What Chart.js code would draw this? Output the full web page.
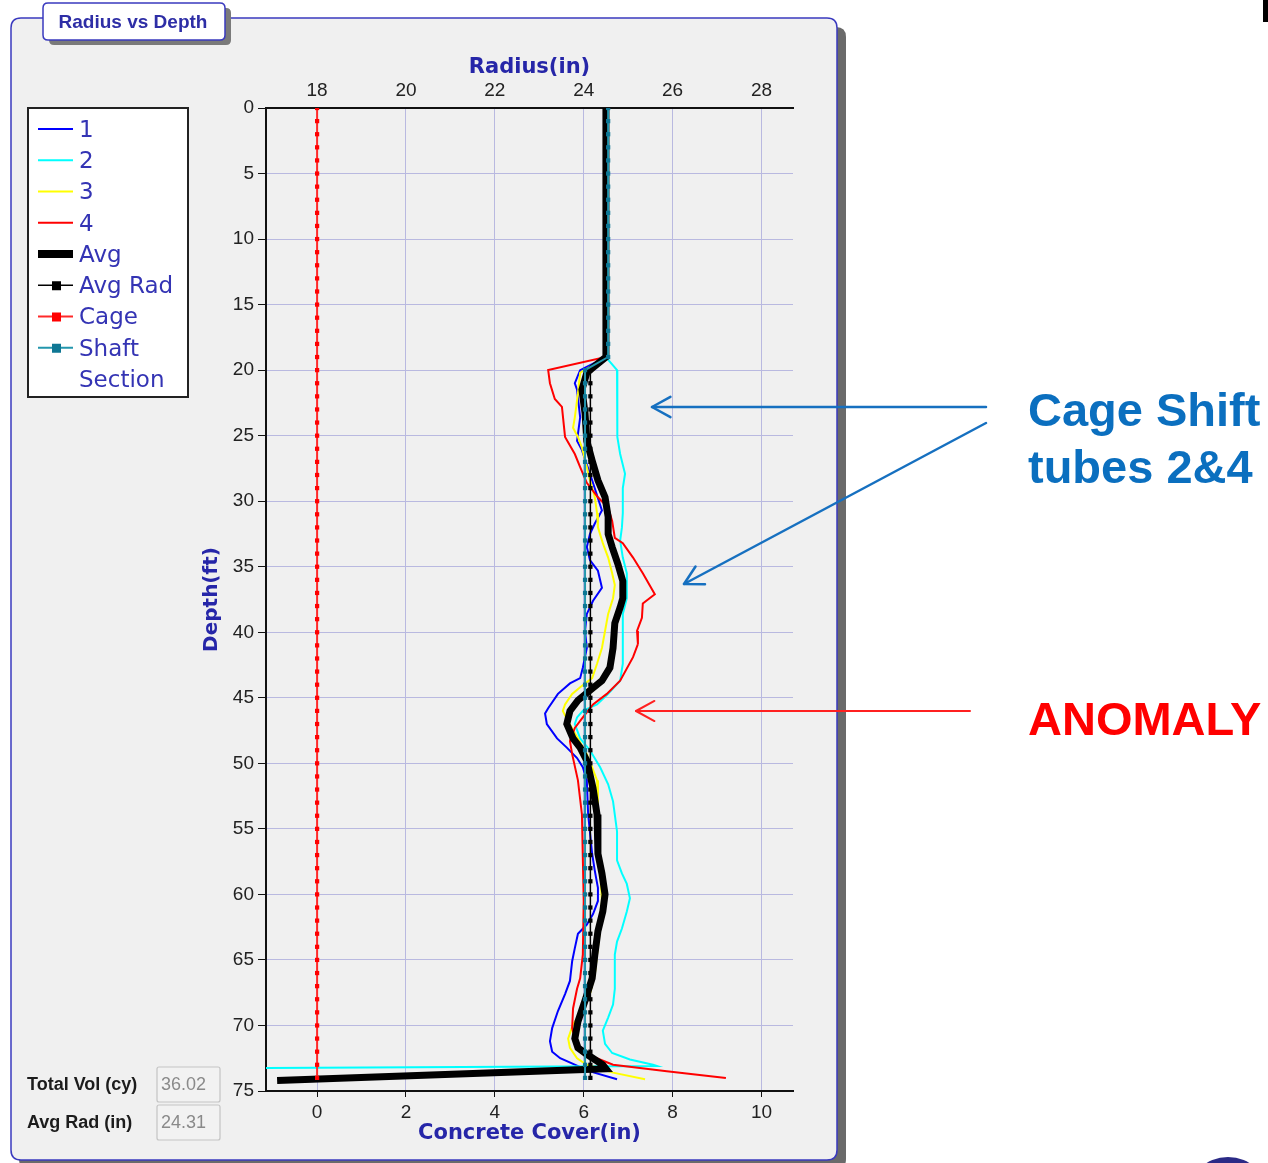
<!DOCTYPE html>
<html>
<head>
<meta charset="utf-8">
<script src="https://cdn.jsdelivr.net/npm/chart.js@4.4.1/dist/chart.umd.min.js"></script>
<style>
html,body{margin:0;padding:0;background:#ffffff;}
canvas{display:block;}
</style>
</head>
<body>
<canvas id="c" width="1268" height="1163"></canvas>
<script>
// ---------------- DATA ----------------
const radiusTickLabels = [18, 20, 22, 24, 26, 28];
const coverTickLabels = [0, 2, 4, 6, 8, 10];
const depthTickLabels = [0, 5, 10, 15, 20, 25, 30, 35, 40, 45, 50, 55, 60, 65, 70, 75];

// Tube 1
const tube1Depth = [0, 19, 20, 21, 21.5, 23.6, 25.4, 26.1, 28.4, 30.7, 31.7, 32.5, 33.5, 34.5, 35.3, 36.6, 37.6, 38.6, 39.9, 41.2, 42.7, 43.5, 43.9, 44.7, 45.8, 46.2, 47.0, 48.1, 48.8, 49.6, 50.3, 51.3, 53.9, 56.9, 58.2, 59.5, 60.5, 61.5, 62.3, 63.0, 64.1, 65.1, 66.6, 67.6, 68.9, 70.2, 71.2, 72.0, 72.5, 73.5, 74.1];
const tube1Radius = [24.5, 24.5, 23.92, 23.80, 23.85, 23.92, 23.85, 23.96, 24.19, 24.41, 24.25, 24.14, 24.07, 24.14, 24.32, 24.41, 24.21, 24.07, 24.03, 24.07, 23.98, 23.92, 23.69, 23.42, 23.20, 23.13, 23.17, 23.40, 23.62, 23.85, 23.98, 24.07, 24.10, 24.19, 24.25, 24.32, 24.32, 24.21, 24.07, 23.87, 23.80, 23.74, 23.69, 23.58, 23.42, 23.29, 23.24, 23.29, 23.47, 24.14, 24.75];

// Tube 2
const tube2Depth = [0, 19, 20.0, 21.5, 23.6, 25.1, 26.4, 27.9, 29.0, 30.9, 32.0, 33.0, 34.3, 35.5, 37.4, 38.6, 42.4, 43.7, 44.7, 45.5, 46.0, 46.5, 47.0, 48.1, 49.0, 50.3, 51.6, 52.9, 55.2, 57.4, 58.4, 59.2, 60.3, 61.3, 62.6, 63.6, 64.6, 67.2, 68.4, 69.4, 70.4, 71.4, 72.1, 72.6, 73.0, 73.1, 73.3];
const tube2Radius = [24.5, 24.5, 24.75, 24.77, 24.75, 24.75, 24.82, 24.93, 24.88, 24.88, 24.86, 24.82, 24.88, 24.97, 24.97, 24.88, 24.88, 24.82, 24.55, 24.30, 23.98, 23.85, 23.80, 23.92, 24.14, 24.37, 24.55, 24.66, 24.75, 24.75, 24.86, 24.97, 25.04, 24.97, 24.86, 24.75, 24.70, 24.70, 24.66, 24.55, 24.43, 24.48, 24.64, 25.04, 25.56, 25.65, 14.0];

// Tube 3
const tube3Depth = [0, 19, 20.2, 21.8, 23.6, 24.4, 25.1, 25.9, 27.4, 28.4, 29.7, 30.9, 32.0, 33.2, 34.3, 35.5, 36.4, 37.4, 38.6, 39.9, 41.2, 42.4, 43.5, 44.2, 44.7, 45.5, 46.0, 46.8, 48.1, 49.3, 50.3, 51.3, 53.9, 58.2, 60.5, 62.6, 64.6, 66.1, 67.6, 68.9, 69.9, 71.0, 71.7, 72.5, 73.0, 73.6, 74.1];
const tube3Radius = [24.5, 24.5, 23.92, 23.87, 23.80, 23.76, 23.87, 23.96, 24.07, 24.14, 24.25, 24.30, 24.32, 24.43, 24.55, 24.64, 24.70, 24.66, 24.55, 24.48, 24.41, 24.30, 24.19, 23.92, 23.74, 23.58, 23.53, 23.65, 23.87, 24.07, 24.19, 24.30, 24.32, 24.37, 24.41, 24.37, 24.30, 24.25, 24.14, 23.98, 23.76, 23.65, 23.69, 23.85, 24.07, 24.66, 25.38];

// Tube 4
const tube4Depth = [0, 19.0, 20.0, 21.0, 22.2, 22.8, 25.1, 26.4, 27.4, 28.6, 29.7, 30.5, 31.5, 32.8, 33.2, 34.3, 35.5, 37.1, 37.8, 38.9, 39.9, 40.9, 41.9, 43.7, 44.7, 45.5, 46.5, 47.3, 48.3, 49.3, 51.3, 53.9, 60.5, 64.6, 66.4, 67.2, 68.7, 70.2, 71.7, 72.2, 73.0, 73.5, 74.0];
const tube4Radius = [24.5, 24.5, 23.20, 23.24, 23.35, 23.51, 23.58, 23.80, 23.92, 24.07, 24.32, 24.55, 24.64, 24.70, 24.88, 25.11, 25.33, 25.60, 25.33, 25.31, 25.20, 25.22, 25.11, 24.82, 24.52, 24.21, 23.98, 23.80, 23.69, 23.74, 23.87, 23.96, 24.00, 23.98, 23.92, 23.85, 23.76, 23.74, 23.85, 24.07, 24.66, 25.87, 27.20];

// Average
const avgDepth = [0, 19.0, 19.8, 20.2, 21.5, 23.3, 25.4, 26.9, 28.4, 29.7, 31.2, 32.5, 33.5, 34.8, 36.1, 37.4, 38.1, 39.3, 41.2, 42.7, 43.7, 44.3, 45.2, 46.0, 47.0, 48.1, 48.8, 49.8, 51.9, 53.9, 56.9, 58.4, 60.0, 61.3, 62.8, 64.6, 66.4, 68.1, 69.7, 71.0, 71.7, 72.2, 73.0, 73.3, 74.2];
const avgRadius = [24.5, 24.5, 24.21, 24.07, 23.96, 24.03, 24.07, 24.19, 24.32, 24.48, 24.55, 24.55, 24.64, 24.77, 24.88, 24.88, 24.82, 24.70, 24.66, 24.59, 24.41, 24.19, 23.87, 23.69, 23.62, 23.76, 23.92, 24.07, 24.21, 24.30, 24.32, 24.41, 24.48, 24.43, 24.32, 24.25, 24.19, 24.03, 23.87, 23.80, 23.87, 24.07, 24.43, 24.50, 17.10];

// Marker depths (one per foot)
const markerDepth = [0, 1, 2, 3, 4, 5, 6, 7, 8, 9, 10, 11, 12, 13, 14, 15, 16, 17, 18, 19, 20, 21, 22, 23, 24, 25, 26, 27, 28, 29, 30, 31, 32, 33, 34, 35, 36, 37, 38, 39, 40, 41, 42, 43, 44, 45, 46, 47, 48, 49, 50, 51, 52, 53, 54, 55, 56, 57, 58, 59, 60, 61, 62, 63, 64, 65, 66, 67, 68, 69, 70, 71, 72, 73, 74];
const avgRadDepth = [20, 21, 22, 23, 24, 25, 26, 27, 28, 29, 30, 31, 32, 33, 34, 35, 36, 37, 38, 39, 40, 41, 42, 43, 44, 45, 46, 47, 48, 49, 50, 51, 52, 53, 54, 55, 56, 57, 58, 59, 60, 61, 62, 63, 64, 65, 66, 67, 68, 69, 70, 71, 72, 73, 74];
const avgRadValue = 24.15;     // plotted average radius line (in)
const cageRadiusValue = 18.0;  // cage radius (in)
const shaftUpperRadius = 24.55; // shaft section radius above 19 ft
const shaftLowerRadius = 24.03; // shaft section radius below 20 ft
const shaftChangeDepth = 19;

const totalVolText = '36.02';
const avgRadText = '24.31';

// ---------------- HELPERS ----------------
function pts(depths, radii) { return depths.map((d, i) => ({ x: radii[i], y: d })); }
const cageRef = cageRadiusValue; // cover = radius - cage radius
const radiusMin = 16.85, radiusMax = 28.71;

function rr(ctx, x, y, w, h, r) {
  ctx.beginPath();
  ctx.moveTo(x + r, y);
  ctx.lineTo(x + w - r, y);
  ctx.quadraticCurveTo(x + w, y, x + w, y + r);
  ctx.lineTo(x + w, y + h - r);
  ctx.quadraticCurveTo(x + w, y + h, x + w - r, y + h);
  ctx.lineTo(x + r, y + h);
  ctx.quadraticCurveTo(x, y + h, x, y + h - r);
  ctx.lineTo(x, y + r);
  ctx.quadraticCurveTo(x, y, x + r, y);
  ctx.closePath();
}
function arrow(ctx, x1, y1, x2, y2, color, lw) {
  ctx.save();
  ctx.strokeStyle = color; ctx.lineWidth = lw; ctx.lineCap = 'round'; ctx.lineJoin = 'round';
  ctx.beginPath(); ctx.moveTo(x1, y1); ctx.lineTo(x2, y2); ctx.stroke();
  const a = Math.atan2(y1 - y2, x1 - x2), L = 21, s = 0.5;
  ctx.beginPath();
  ctx.moveTo(x2 + L * Math.cos(a + s), y2 + L * Math.sin(a + s));
  ctx.lineTo(x2, y2);
  ctx.lineTo(x2 + L * Math.cos(a - s), y2 + L * Math.sin(a - s));
  ctx.stroke();
  ctx.restore();
}

const titleBlue = '#2626a8';
const gridColor = '#b9b9e0';
const tickFont = { family: 'Liberation Sans', size: 19 };

const decor = {
  id: 'decor',
  beforeDraw(chart) {
    const ctx = chart.ctx;
    ctx.save();
    ctx.fillStyle = '#ffffff';
    ctx.fillRect(0, 0, chart.width, chart.height);
    // panel shadow + panel
    rr(ctx, 19, 27, 827, 1142, 10); ctx.fillStyle = '#6a6a6a'; ctx.fill();
    rr(ctx, 11, 18, 826, 1142, 10); ctx.fillStyle = '#f0f0f0'; ctx.fill();
    ctx.lineWidth = 1.5; ctx.strokeStyle = '#3a3abf'; ctx.stroke();
    // title tab
    rr(ctx, 49, 8, 182, 37, 5); ctx.fillStyle = '#7a7a7a'; ctx.fill();
    rr(ctx, 43, 3, 182, 37, 5); ctx.fillStyle = '#ffffff'; ctx.fill();
    ctx.lineWidth = 1.5; ctx.strokeStyle = '#3a3abf'; ctx.stroke();
    ctx.fillStyle = '#2e2ea6';
    ctx.font = 'bold 19px "Liberation Sans"';
    ctx.textAlign = 'center'; ctx.textBaseline = 'middle';
    ctx.fillText('Radius vs Depth', 133, 23);
    ctx.restore();
  },
  afterDraw(chart) {
    const ctx = chart.ctx;
    ctx.save();
    // ---- legend ----
    ctx.fillStyle = '#ffffff';
    ctx.fillRect(28, 108, 160, 289);
    ctx.lineWidth = 2; ctx.strokeStyle = '#222';
    ctx.strokeRect(28, 108, 160, 289);
    ctx.font = '23px "DejaVu Sans"';
    ctx.textAlign = 'left'; ctx.textBaseline = 'middle';
    let y = 129;
    const rowH = 31.25;
    chart.data.datasets.forEach(ds => {
      ctx.strokeStyle = ds.borderColor;
      ctx.lineWidth = ds.legendLineWidth || ds.borderWidth;
      ctx.beginPath(); ctx.moveTo(38, y); ctx.lineTo(73, y); ctx.stroke();
      if (ds.pointRadius > 0) {
        ctx.fillStyle = ds.pointBackgroundColor;
        ctx.fillRect(52, y - 4, 9, 9);
      }
      ctx.fillStyle = '#3434b4';
      const words = ds.label.split(' ');
      let line = '';
      const lines = [];
      words.forEach(w => {
        const test = line ? line + ' ' + w : w;
        if (ctx.measureText(test).width > 104 && line) { lines.push(line); line = w; } else line = test;
      });
      lines.push(line);
      lines.forEach((t, k) => ctx.fillText(t, 79, y + 2 + k * rowH));
      y += rowH * lines.length;
    });
    // ---- value boxes ----
    ctx.font = 'bold 18px "Liberation Sans"';
    ctx.fillStyle = '#1c1c1c';
    ctx.textBaseline = 'middle';
    ctx.fillText('Total Vol (cy)', 27, 1085);
    ctx.fillText('Avg Rad (in)', 27, 1123);
    [[1067, totalVolText], [1105, avgRadText]].forEach(([by, txt]) => {
      rr(ctx, 157, by, 63, 35, 2);
      ctx.fillStyle = '#f2f2f2'; ctx.fill();
      ctx.lineWidth = 1.2; ctx.strokeStyle = '#c4c4c4'; ctx.stroke();
      ctx.fillStyle = '#8a8a8a';
      ctx.font = '18px "Liberation Sans"';
      ctx.fillText(txt, 161, by + 18);
    });
    // ---- annotations ----
    ctx.textBaseline = 'alphabetic';
    ctx.font = 'bold 47px "Liberation Sans"';
    ctx.fillStyle = '#0b6fbf';
    ctx.fillText('Cage Shift', 1028, 426);
    ctx.fillText('tubes 2&4', 1028, 483);
    ctx.fillStyle = '#ff0000';
    ctx.fillText('ANOMALY', 1028, 735);
    arrow(ctx, 986, 407, 652, 407, '#1670c0', 2.5);
    arrow(ctx, 986, 423, 684, 584, '#1670c0', 2.5);
    arrow(ctx, 970, 711, 636, 711, '#ff2020', 2);
    // ---- page corner marks ----
    ctx.fillStyle = '#000';
    ctx.fillRect(1263, 0, 5, 22);
    ctx.fillStyle = '#2b2a86';
    ctx.beginPath(); ctx.arc(1228, 1198, 41, 0, Math.PI * 2); ctx.fill();
    ctx.restore();
  }
};

const line = (label, depths, radii, color, width, order) => ({
  label, data: pts(depths, radii), borderColor: color, backgroundColor: color,
  borderWidth: width, pointRadius: 0, tension: 0, fill: false, order, xAxisID: 'x', yAxisID: 'y'
});

const datasets = [
  line('1', tube1Depth, tube1Radius, '#0000ff', 2, 9),
  line('2', tube2Depth, tube2Radius, '#00ffff', 2, 8),
  line('3', tube3Depth, tube3Radius, '#ffff00', 2, 7),
  line('4', tube4Depth, tube4Radius, '#ff0000', 2, 6),
  Object.assign(line('Avg', avgDepth, avgRadius, '#000000', 7, 5), { legendLineWidth: 8 }),
  {
    label: 'Avg Rad', data: avgRadDepth.map(d => ({ x: avgRadValue, y: d })),
    borderColor: '#000000', borderWidth: 1.5, pointStyle: 'rect', pointRadius: 3,
    pointBackgroundColor: '#000000', pointBorderWidth: 0, tension: 0, order: 3, xAxisID: 'x', yAxisID: 'y'
  },
  {
    label: 'Cage', data: markerDepth.map(d => ({ x: cageRadiusValue, y: d })),
    borderColor: '#ff2a2a', borderWidth: 2, pointStyle: 'rect', pointRadius: 3,
    pointBackgroundColor: '#ff0000', pointBorderWidth: 0, tension: 0, order: 2, xAxisID: 'x', yAxisID: 'y'
  },
  {
    label: 'Shaft Section', data: markerDepth.map(d => ({ x: d <= shaftChangeDepth ? shaftUpperRadius : shaftLowerRadius, y: d })),
    borderColor: '#2396ad', borderWidth: 2, pointStyle: 'rect', pointRadius: 3,
    pointBackgroundColor: '#0f7794', pointBorderWidth: 0, tension: 0, order: 1, xAxisID: 'x', yAxisID: 'y'
  }
];

new Chart(document.getElementById('c'), {
  type: 'line',
  data: { datasets },
  plugins: [decor],
  options: {
    responsive: false,
    animation: false,
    devicePixelRatio: 1,
    events: [],
    layout: { padding: { left: 200, top: 50, right: 475, bottom: 13 } },
    plugins: { legend: { display: false }, tooltip: { enabled: false } },
    scales: {
      x: {
        type: 'linear', position: 'top', min: radiusMin, max: radiusMax,
        afterBuildTicks: s => { s.ticks = radiusTickLabels.map(v => ({ value: v })); },
        afterFit: s => { s.height = 58; },
        grid: { color: gridColor, lineWidth: 1, drawTicks: false },
        border: { display: true, color: '#111', width: 2 },
        ticks: { padding: 6, color: '#222', font: tickFont },
        title: { display: true, text: 'Radius(in)', color: titleBlue, font: { family: 'DejaVu Sans', size: 21, weight: 'bold' }, padding: { top: 5, bottom: 0 } }
      },
      xCover: {
        type: 'linear', axis: 'x', position: 'bottom', min: radiusMin - cageRef, max: radiusMax - cageRef,
        afterBuildTicks: s => { s.ticks = coverTickLabels.map(v => ({ value: v })); },
        afterFit: s => { s.height = 59; },
        grid: { drawOnChartArea: false, drawTicks: true, tickLength: 6, tickColor: '#111', color: '#111' },
        border: { display: true, color: '#111', width: 2 },
        ticks: { padding: 4, color: '#222', font: tickFont },
        title: { display: true, text: 'Concrete Cover(in)', color: titleBlue, font: { family: 'DejaVu Sans', size: 21, weight: 'bold' }, padding: { top: 0, bottom: 4 } }
      },
      y: {
        type: 'linear', position: 'left', reverse: true, min: 0, max: 75,
        afterBuildTicks: s => { s.ticks = depthTickLabels.map(v => ({ value: v })); },
        afterFit: s => { s.width = 66; },
        grid: { color: gridColor, lineWidth: 1, drawTicks: true, tickLength: 8, tickColor: '#111' },
        border: { display: true, color: '#111', width: 2 },
        ticks: { padding: 4, color: '#222', font: tickFont },
        title: { display: true, text: 'Depth(ft)', color: titleBlue, font: { family: 'DejaVu Sans', size: 20, weight: 'bold' }, padding: { top: 0, bottom: 0 } }
      }
    }
  }
});
</script>
</body>
</html>
